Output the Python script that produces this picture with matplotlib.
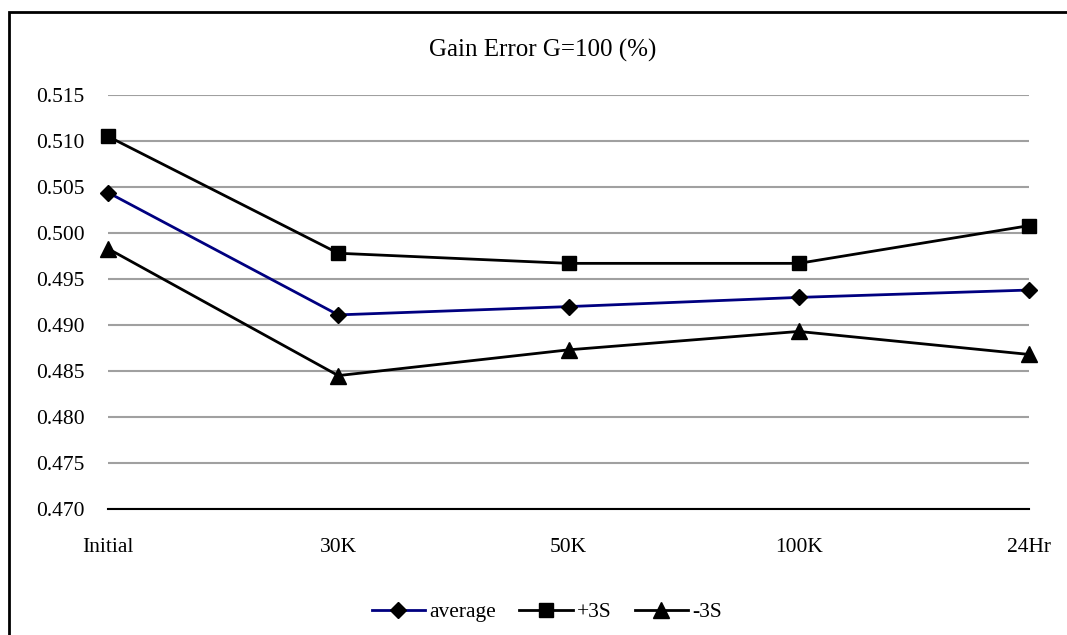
import matplotlib
matplotlib.use("Agg")
import matplotlib.pyplot as plt
from matplotlib.patches import Rectangle

categories = ["Initial", "30K", "50K", "100K", "24Hr"]
average = [0.5044, 0.4911, 0.4920, 0.4930, 0.4938]
plus3s = [0.5105, 0.4978, 0.4967, 0.4967, 0.5008]
minus3s = [0.4983, 0.4845, 0.4873, 0.4893, 0.4868]
yticks = [0.470, 0.475, 0.480, 0.485, 0.490, 0.495, 0.500, 0.505, 0.510, 0.515]

plt.rcParams['font.family'] = ['Liberation Serif', 'DejaVu Serif']

W, H = 1067, 635
fig = plt.figure(figsize=(W/100, H/100), dpi=100)
ax = fig.add_axes([108/W, 1-509/H, (1029-108)/W, (509-95)/H])

x = list(range(len(categories)))
ax.plot(x, average, color='#000080', lw=2, marker='D', ms=8.5, mfc='black', mec='black',
        label='average', zorder=3, clip_on=False)
ax.plot(x, plus3s, color='black', lw=2, marker='s', ms=10, mfc='black', mec='black',
        label='+3S', zorder=3, clip_on=False)
ax.plot(x, minus3s, color='black', lw=2, marker='^', ms=11, mfc='black', mec='black',
        label='-3S', zorder=3, clip_on=False)

ax.set_xlim(0, len(categories)-1)
ax.set_ylim(0.470, 0.515)
ax.set_yticks(yticks)
ax.set_yticklabels([f"{v:.3f}" for v in yticks])
ax.set_xticks(x)
ax.set_xticklabels(categories)
ax.yaxis.grid(True, color='#a0a0a0', lw=1.5)
ax.set_axisbelow(True)
for s in ['top', 'right', 'left']:
    ax.spines[s].set_visible(False)
ax.spines['bottom'].set_color('black')
ax.spines['bottom'].set_linewidth(1.5)
ax.tick_params(axis='both', length=0, labelsize=15.5)
ax.tick_params(axis='y', pad=17)
ax.tick_params(axis='x', pad=21)

fig.text(543/W, 1-50/H, "Gain Error G=100 (%)", ha='center', va='center', fontsize=18)

leg = fig.legend(loc='center', bbox_to_anchor=(547/W, 1-612/H), ncol=3, frameon=False,
                 fontsize=15.5, handlelength=2.5, columnspacing=1.05, handletextpad=0.2)

fig.add_artist(Rectangle((9/W, -0.1), 1.2, 1+0.1-12/H, transform=fig.transFigure,
                         fill=False, edgecolor='black', lw=2))

fig.savefig("out.png", dpi=100)
